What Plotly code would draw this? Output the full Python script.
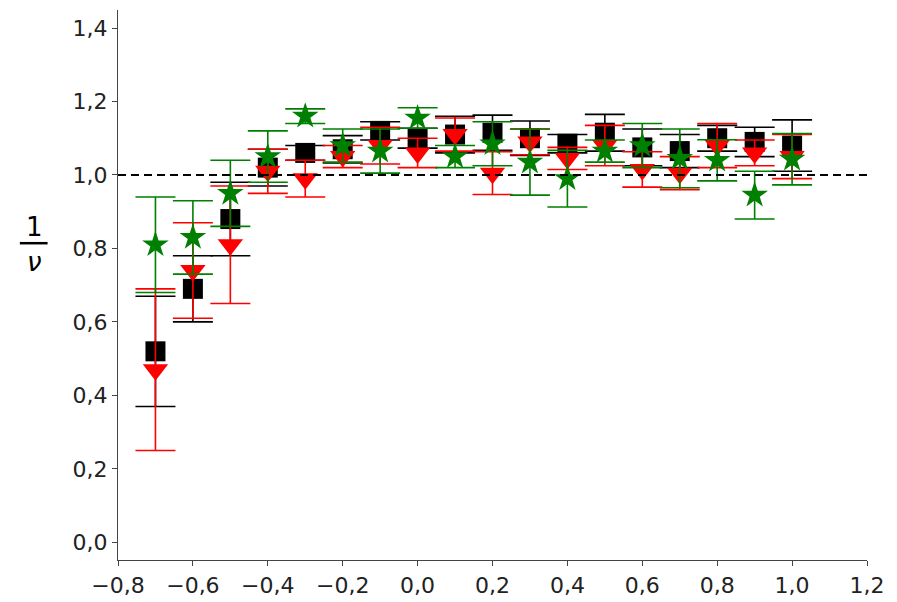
import plotly.graph_objects as go

x_vals = [-0.7, -0.6, -0.5, -0.4, -0.3, -0.2, -0.1, 0.0, 0.1, 0.2, 0.3, 0.4, 0.5, 0.6, 0.7, 0.8, 0.9, 1.0]

black_y = [0.52, 0.69, 0.88, 1.02, 1.06, 1.07, 1.12, 1.10, 1.11, 1.115, 1.10, 1.085, 1.115, 1.075, 1.065, 1.10, 1.09, 1.08]
black_err = [0.15, 0.09, 0.10, 0.05, 0.02, 0.037, 0.025, 0.027, 0.05, 0.048, 0.047, 0.025, 0.05, 0.05, 0.045, 0.035, 0.04, 0.07]

red_y = [0.47, 0.74, 0.81, 1.01, 0.99, 1.05, 1.08, 1.06, 1.11, 1.005, 1.09, 1.045, 1.08, 1.015, 1.005, 1.08, 1.06, 1.05]
red_err = [0.22, 0.13, 0.16, 0.06, 0.05, 0.03, 0.05, 0.04, 0.045, 0.058, 0.035, 0.03, 0.055, 0.048, 0.045, 0.06, 0.035, 0.06]

green_y = [0.81, 0.83, 0.95, 1.05, 1.16, 1.08, 1.065, 1.155, 1.05, 1.085, 1.035, 0.99, 1.065, 1.08, 1.045, 1.04, 0.945, 1.043]
green_err = [0.13, 0.10, 0.09, 0.07, 0.02, 0.045, 0.06, 0.028, 0.03, 0.06, 0.09, 0.077, 0.03, 0.06, 0.08, 0.056, 0.065, 0.07]

x_ticks = [-0.8, -0.6, -0.4, -0.2, 0.0, 0.2, 0.4, 0.6, 0.8, 1.0, 1.2]
y_ticks = [0.0, 0.2, 0.4, 0.6, 0.8, 1.0, 1.2, 1.4]
reference_level = 1.0

fig = go.Figure()

series = [
    (black_y, black_err, "black", "square", 20),
    (red_y, red_err, "red", "triangle-down", 22),
    (green_y, green_err, "green", "star", 20),
]
for ys, errs, col, sym, sz in series:
    fig.add_trace(go.Scatter(
        x=x_vals, y=ys, mode="markers",
        marker=dict(symbol=sym, size=sz, color=col, line=dict(width=0)),
        error_y=dict(type="data", array=errs, visible=True, color=col, thickness=1.6, width=20),
        showlegend=False,
    ))

fig.add_hline(y=reference_level, line=dict(color="black", width=2, dash="8px,5px"))

# y-axis label as a fraction 1/ν
fig.add_annotation(xref="paper", yref="paper", x=-0.112, y=0.606, xanchor="center", yanchor="middle",
                   text="1", showarrow=False, font=dict(size=26, color="black", family="DejaVu Sans"))
fig.add_annotation(xref="paper", yref="paper", x=-0.112, y=0.542, xanchor="center", yanchor="middle",
                   text="<i>ν</i>", showarrow=False, font=dict(size=26, color="black", family="DejaVu Sans"))
fig.add_shape(type="line", xref="paper", yref="paper", x0=-0.131, x1=-0.094, y0=0.576, y1=0.576,
              line=dict(color="black", width=2.5))

axis_common = dict(showline=True, linecolor="#444", linewidth=1.2, showgrid=False, zeroline=False,
                   ticks="outside", ticklen=5, tickcolor="#444", tickwidth=1.2,
                   tickfont=dict(size=22, color="#222", family="DejaVu Sans"))

fig.update_xaxes(range=[-0.8, 1.2], tickvals=x_ticks, tickformat=".1f", **axis_common)
fig.update_yaxes(range=[-0.048, 1.449], tickvals=y_ticks, tickformat=".1f", **axis_common)

fig.update_layout(
    width=889, height=594,
    margin=dict(l=110, r=30, t=2, b=42),
    plot_bgcolor="white", paper_bgcolor="white",
    separators=",.",
)

fig.write_html("out.html")
